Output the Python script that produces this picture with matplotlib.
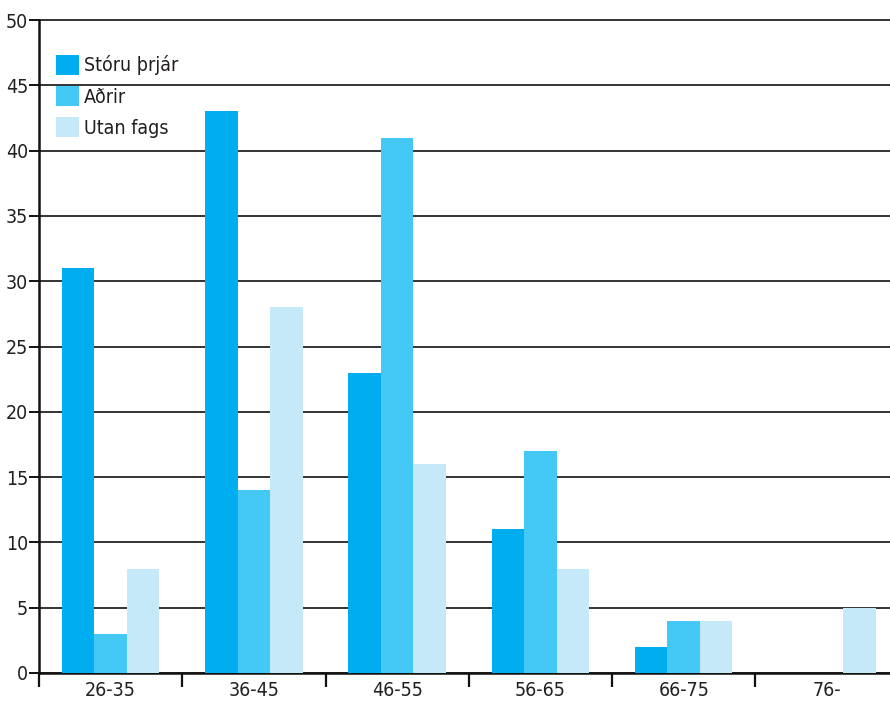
import numpy as np
import matplotlib
matplotlib.use('Agg')
from matplotlib import pyplot as plt
from matplotlib.ticker import FixedLocator, NullFormatter

plt.rcParams['font.family'] = ['DejaVu Sans']
plt.rcParams['font.stretch'] = 'condensed'

categories = ['26-35', '36-45', '46-55', '56-65', '66-75', '76-']
series_names = ['Stóru þrjár', 'Aðrir', 'Utan fags']
storu = [31, 43, 23, 11, 2, 0]
adrir = [3, 14, 41, 17, 4, 0]
utan = [8, 28, 16, 8, 4, 5]
y_ticks = list(range(0, 51, 5))

colors = ['#00AEEF', '#44C8F5', '#C6E9F9']
text_color = '#231F20'

fig = plt.figure(figsize=(8.9, 7.01), dpi=100)
ax = fig.add_axes([39 / 890, 28 / 701, 851 / 890, 653 / 701])

x = np.arange(len(categories))
width = 0.227
for i, (vals, name) in enumerate(zip([storu, adrir, utan], series_names)):
    ax.bar(x + (i - 1) * width, vals, width, color=colors[i], label=name, zorder=3)

# last group runs slightly past the right edge of the plot area
ax.set_xlim(-0.5, len(categories) - 0.56)
ax.set_ylim(0, 50)
ax.set_yticks(y_ticks)
ax.yaxis.grid(True, color='#333333', linewidth=1.4, zorder=0)
ax.set_axisbelow(True)
for gl in ax.get_ygridlines():
    gl.set_clip_on(False)

# boundary ticks between groups, labels centred under each group
ax.xaxis.set_major_locator(FixedLocator(np.arange(len(categories)) - 0.5))
ax.xaxis.set_major_formatter(NullFormatter())
ax.xaxis.set_minor_locator(FixedLocator(x))
ax.set_xticklabels(categories, minor=True)
ax.tick_params(axis='x', which='major', length=10, width=1.6, color='#111111')
ax.tick_params(axis='x', which='minor', length=0, pad=6, labelsize=14, labelcolor=text_color)
ax.tick_params(axis='y', length=7, width=1.4, color='#111111', pad=1, labelsize=14,
               labelcolor=text_color)

for side in ['top', 'right']:
    ax.spines[side].set_visible(False)
for side in ['left', 'bottom']:
    ax.spines[side].set_linewidth(1.8)
    ax.spines[side].set_color('#111111')

leg = ax.legend(loc='upper left', bbox_to_anchor=(17 / 851, 1 - 35 / 653), frameon=False,
                borderpad=0, borderaxespad=0, fontsize=14, handlelength=1.18,
                handleheight=1.18, handletextpad=0.25, labelspacing=0.55)
for t in leg.get_texts():
    t.set_color(text_color)

fig.savefig('out.png', dpi=100)
